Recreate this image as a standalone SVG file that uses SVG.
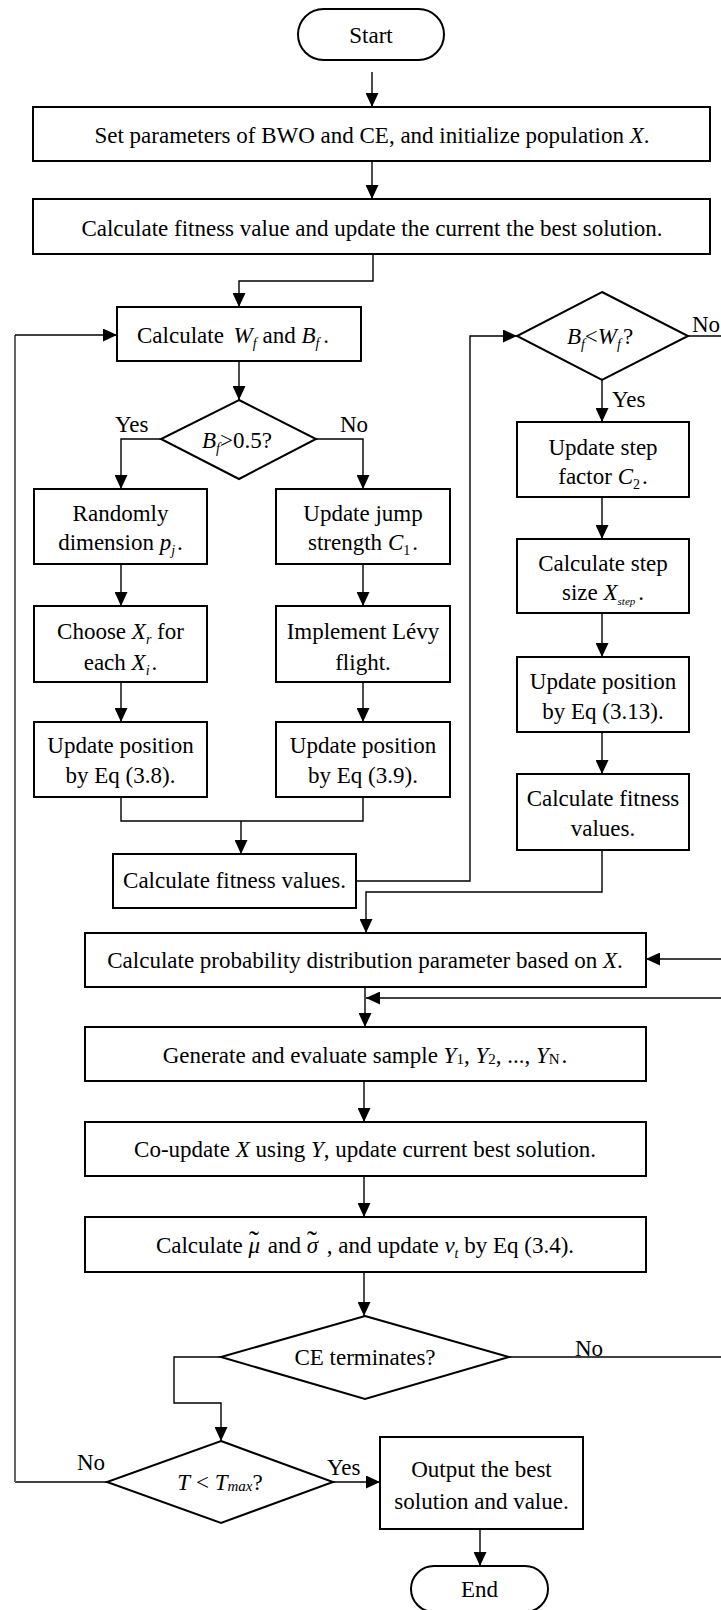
<svg xmlns="http://www.w3.org/2000/svg" width="721" height="1610" viewBox="0 0 721 1610">
<style>
.box{fill:#fff;stroke:#000;stroke-width:2}
.ln{fill:none;stroke:#000;stroke-width:1.4}
.gl{fill:none;stroke:#666;stroke-width:2}
.t{font-family:"Liberation Serif","Times New Roman",serif;font-size:23px;fill:#000}
.c{text-anchor:middle}
.i{font-style:italic}
.s{font-size:14px}
</style>
<defs>
<marker id="ah" markerWidth="14" markerHeight="13" refX="14" refY="6.5" orient="auto" markerUnits="userSpaceOnUse"><path d="M0,0 L14,6.5 L0,13 Z" fill="#000"/></marker>
</defs>
<rect width="721" height="1610" fill="#fff"/>

<g id="connectors">
<path class="ln" d="M372,72 V107" marker-end="url(#ah)"/>
<path class="ln" d="M372,161 V199" marker-end="url(#ah)"/>
<path class="ln" d="M373,254 V281 H239 V307" marker-end="url(#ah)"/>
<path class="ln" d="M239,361 V400" marker-end="url(#ah)"/>
<path class="ln" d="M161,439 H121 V489" marker-end="url(#ah)"/>
<path class="ln" d="M316,439 H363 V489" marker-end="url(#ah)"/>
<path class="ln" d="M121,564 V606" marker-end="url(#ah)"/>
<path class="ln" d="M121,682 V722" marker-end="url(#ah)"/>
<path class="ln" d="M363,564 V606" marker-end="url(#ah)"/>
<path class="ln" d="M363,682 V722" marker-end="url(#ah)"/>
<path class="ln" d="M121,797 V821 H363 V797"/>
<path class="ln" d="M241,821 V854" marker-end="url(#ah)"/>
<path class="ln" d="M356,881 H470 V336 H517" marker-end="url(#ah)"/>
<path class="ln" d="M688,336 H721"/>
<path class="ln" d="M602,380 V422" marker-end="url(#ah)"/>
<path class="ln" d="M602,497 V539" marker-end="url(#ah)"/>
<path class="ln" d="M602,613 V657" marker-end="url(#ah)"/>
<path class="ln" d="M602,732 V774" marker-end="url(#ah)"/>
<path class="ln" d="M602,850 V892 H366 V933" marker-end="url(#ah)"/>
<path class="ln" d="M721,959 H646" marker-end="url(#ah)"/>
<path class="ln" d="M365,987 V1027" marker-end="url(#ah)"/>
<path class="ln" d="M721,998 H366" marker-end="url(#ah)"/>
<path class="ln" d="M364,1081 V1122" marker-end="url(#ah)"/>
<path class="ln" d="M364,1176 V1217" marker-end="url(#ah)"/>
<path class="ln" d="M364,1272 V1316" marker-end="url(#ah)"/>
<path class="ln" d="M509,1357 H721"/>
<path class="ln" d="M221,1357 H174 V1403 H221 V1441" marker-end="url(#ah)"/>
<path class="ln" d="M107,1482 H15"/>
<path class="gl" d="M15,1482 V335"/>
<path class="ln" d="M15,335 H117" marker-end="url(#ah)"/>
<path class="ln" d="M333,1482 H380" marker-end="url(#ah)"/>
<path class="ln" d="M480,1529 V1566" marker-end="url(#ah)"/>
</g>

<g id="labels">
<text class="t" x="115" y="432">Yes</text>
<text class="t" x="340" y="432">No</text>
<text class="t" x="692" y="332">No</text>
<text class="t" x="612" y="407">Yes</text>
<text class="t" x="575" y="1356">No</text>
<text class="t" x="77" y="1470">No</text>
<text class="t" x="327" y="1475">Yes</text>
</g>

<g id="start">
<rect class="box" x="298" y="9" width="146" height="51" rx="25.5"/>
<text class="t c" x="371" y="43">Start</text>
</g>

<g id="set-params">
<rect class="box" x="33" y="107" width="677" height="54"/>
<text class="t c" x="372" y="143">Set parameters of BWO and CE, and initialize population <tspan class="i">X</tspan>.</text>
</g>

<g id="calc-fitness-init">
<rect class="box" x="33" y="199" width="677" height="55"/>
<text class="t c" x="372" y="236">Calculate fitness value and update the current the best solution.</text>
</g>

<g id="calc-wf-bf">
<rect class="box" x="117" y="307" width="244" height="54"/>
<text class="t" x="137" y="343">Calculate <tspan class="i" dx="4">W</tspan><tspan class="i s" dy="5">f</tspan><tspan dy="-5"> and </tspan><tspan class="i">B</tspan><tspan class="i s" dy="5">f</tspan><tspan dy="-5" dx="4">.</tspan></text>
</g>

<g id="dec-bf">
<polygon class="box" points="239,400 316,439 239,479 161,439"/>
<text class="t c" x="237" y="448"><tspan class="i">B</tspan><tspan class="i s" dy="5">f</tspan><tspan dy="-5">&gt;0.5?</tspan></text>
</g>

<g id="randomly">
<rect class="box" x="34" y="489" width="173" height="75"/>
<text class="t c" x="120.5" y="521">Randomly</text>
<text class="t c" x="120.5" y="550">dimension <tspan class="i">p</tspan><tspan class="i s" dy="5">j</tspan><tspan dy="-5" dx="2">.</tspan></text>
</g>

<g id="update-jump">
<rect class="box" x="276" y="489" width="174" height="75"/>
<text class="t c" x="363" y="521">Update jump</text>
<text class="t c" x="363" y="550">strength <tspan class="i">C</tspan><tspan class="s" dy="5">1</tspan><tspan dy="-5" dx="2">.</tspan></text>
</g>

<g id="choose">
<rect class="box" x="34" y="606" width="173" height="76"/>
<text class="t c" x="120.5" y="639">Choose <tspan class="i">X</tspan><tspan class="i s" dy="5">r</tspan><tspan dy="-5"> for</tspan></text>
<text class="t c" x="120.5" y="670">each <tspan class="i">X</tspan><tspan class="i s" dy="5">i</tspan><tspan dy="-5" dx="2">.</tspan></text>
</g>

<g id="levy">
<rect class="box" x="276" y="606" width="174" height="76"/>
<text class="t c" x="363" y="639">Implement Lévy</text>
<text class="t c" x="363" y="670">flight.</text>
</g>

<g id="update-38">
<rect class="box" x="34" y="722" width="173" height="75"/>
<text class="t c" x="120.5" y="753">Update position</text>
<text class="t c" x="120.5" y="783">by Eq (3.8).</text>
</g>

<g id="update-39">
<rect class="box" x="276" y="722" width="174" height="75"/>
<text class="t c" x="363" y="753">Update position</text>
<text class="t c" x="363" y="783">by Eq (3.9).</text>
</g>

<g id="calc-fitness-left">
<rect class="box" x="113" y="854" width="243" height="54"/>
<text class="t c" x="234.5" y="888">Calculate fitness values.</text>
</g>

<g id="dec-bf-wf">
<polygon class="box" points="602,292 688,336 602,380 517,336"/>
<text class="t c" x="600" y="344"><tspan class="i">B</tspan><tspan class="i s" dy="5">f</tspan><tspan dy="-5">&lt;</tspan><tspan class="i">W</tspan><tspan class="i s" dy="5">f</tspan><tspan dy="-5" dx="2">?</tspan></text>
</g>

<g id="update-step">
<rect class="box" x="517" y="422" width="172" height="75"/>
<text class="t c" x="603" y="455">Update step</text>
<text class="t c" x="603" y="484">factor <tspan class="i">C</tspan><tspan class="s" dy="5">2</tspan><tspan dy="-5" dx="2">.</tspan></text>
</g>

<g id="calc-step">
<rect class="box" x="517" y="539" width="172" height="74"/>
<text class="t c" x="603" y="571">Calculate step</text>
<text class="t c" x="603" y="600">size <tspan class="i">X</tspan><tspan class="i" style="font-size:11px" dy="5">step</tspan><tspan dy="-5" dx="3">.</tspan></text>
</g>

<g id="update-313">
<rect class="box" x="517" y="657" width="172" height="75"/>
<text class="t c" x="603" y="689">Update position</text>
<text class="t c" x="603" y="719">by Eq (3.13).</text>
</g>

<g id="calc-fitness-right">
<rect class="box" x="517" y="774" width="172" height="76"/>
<text class="t c" x="603" y="806">Calculate fitness</text>
<text class="t c" x="603" y="836">values.</text>
</g>

<g id="calc-prob">
<rect class="box" x="85" y="933" width="561" height="54"/>
<text class="t c" x="365" y="968">Calculate probability distribution parameter based on <tspan class="i">X</tspan>.</text>
</g>

<g id="generate">
<rect class="box" x="85" y="1027" width="561" height="54"/>
<text class="t c" x="365" y="1063">Generate and evaluate sample <tspan class="i">Y</tspan><tspan style="font-size:15px" dy="1">1</tspan><tspan dy="-1">, </tspan><tspan class="i">Y</tspan><tspan style="font-size:15px" dy="1">2</tspan><tspan dy="-1">, ..., </tspan><tspan class="i">Y</tspan><tspan style="font-size:15px" dy="1">N</tspan><tspan dy="-1" dx="2">.</tspan></text>
</g>

<g id="co-update">
<rect class="box" x="85" y="1122" width="561" height="54"/>
<text class="t c" x="365" y="1157">Co-update <tspan class="i">X</tspan> using <tspan class="i">Y</tspan>, update current best solution.</text>
</g>

<g id="calc-mu">
<rect class="box" x="85" y="1217" width="561" height="55"/>
<text class="t c" x="365" y="1253">Calculate <tspan class="i">μ</tspan><tspan style="font-size:30px" dx="-11" dy="-2">˜</tspan><tspan dx="3" dy="2"> and </tspan><tspan class="i">σ</tspan><tspan style="font-size:30px" dx="-11" dy="-2">˜</tspan><tspan dx="4" dy="2"> , and update </tspan><tspan class="i">v</tspan><tspan class="i s" dy="5">t</tspan><tspan dy="-5"> by Eq (3.4).</tspan></text>
</g>

<g id="dec-ce">
<polygon class="box" points="365,1316 509,1357 365,1399 221,1357"/>
<text class="t c" x="365" y="1365">CE terminates?</text>
</g>

<g id="dec-t">
<polygon class="box" points="221,1441 333,1482 221,1523 107,1482"/>
<text class="t c" x="220" y="1490"><tspan class="i">T</tspan> &lt; <tspan class="i">T</tspan><tspan class="i" style="font-size:15px" dy="1">max</tspan><tspan dy="-1">?</tspan></text>
</g>

<g id="output">
<rect class="box" x="380" y="1437" width="203" height="92"/>
<text class="t c" x="481.5" y="1477">Output the best</text>
<text class="t c" x="481.5" y="1509">solution and value.</text>
</g>

<g id="end">
<rect class="box" x="411" y="1566" width="137" height="46" rx="23"/>
<text class="t c" x="479.5" y="1597">End</text>
</g>
</svg>
